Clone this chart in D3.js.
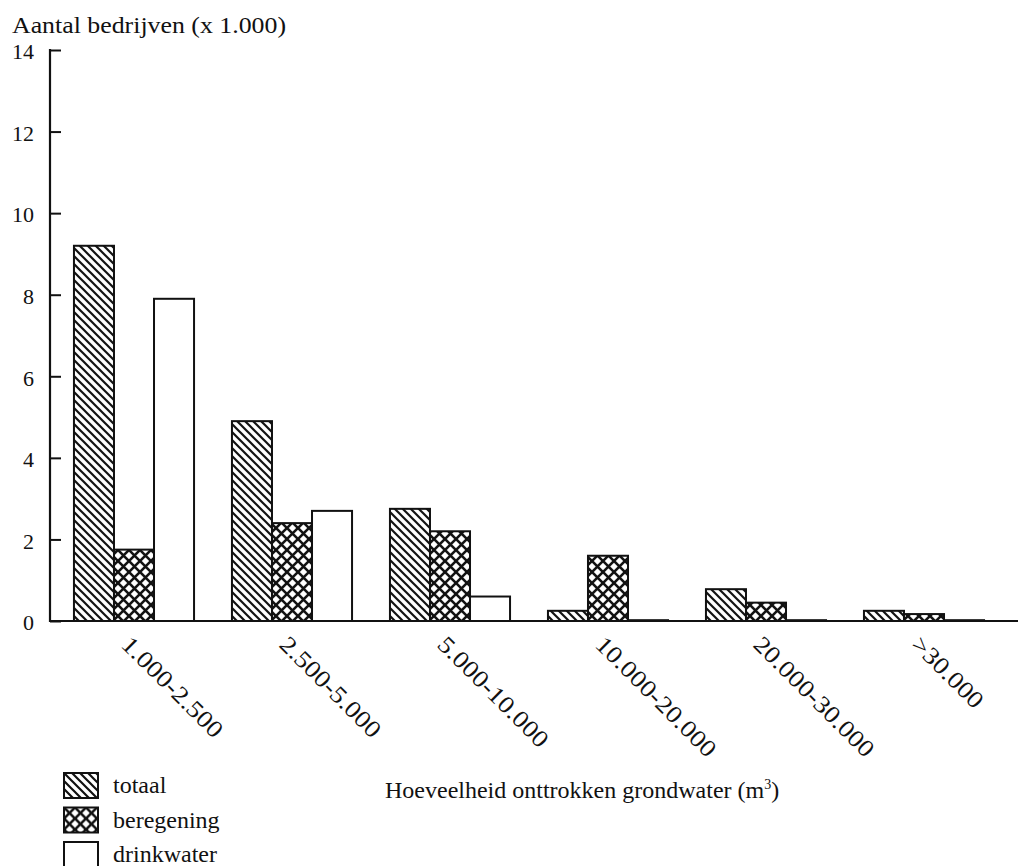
<!DOCTYPE html>
<html>
<head>
<meta charset="utf-8">
<script src="https://cdn.jsdelivr.net/npm/d3@7"></script>
<style>
  html, body { margin: 0; padding: 0; background: #fff; }
  svg { display: block; }
</style>
</head>
<body>
<svg id="chart" width="1018" height="866"></svg>
<script>
// Number of farms (x 1,000) by volume of extracted groundwater
const categories = ["1.000-2.500", "2.500-5.000", "5.000-10.000", "10.000-20.000", "20.000-30.000", ">30.000"];
const seriesNames = ["totaal", "beregening", "drinkwater"];
const totaal = [9.2, 4.9, 2.75, 0.25, 0.78, 0.25];
const beregening = [1.75, 2.4, 2.2, 1.6, 0.45, 0.17];
const drinkwater = [7.9, 2.7, 0.6, 0.02, 0.02, 0.02];
const yTicks = [0, 2, 4, 6, 8, 10, 12, 14];

const seriesValues = { totaal, beregening, drinkwater };
const FONT = "'Liberation Serif', 'DejaVu Serif', 'Times New Roman', serif";

const svg = d3.select("#chart")
  .attr("font-family", FONT)
  .style("font-family", FONT);

// Hatch patterns
const defs = svg.append("defs");
const diag = defs.append("pattern")
  .attr("id", "pat-totaal").attr("patternUnits", "userSpaceOnUse")
  .attr("width", 8).attr("height", 8);
diag.append("rect").attr("width", 8).attr("height", 8).attr("fill", "#fff");
diag.append("path")
  .attr("d", "M-2,-2L10,10M-2,6L2,10M6,-2L10,2")
  .attr("stroke", "#111").attr("stroke-width", 2.2);

const cross = defs.append("pattern")
  .attr("id", "pat-beregening").attr("patternUnits", "userSpaceOnUse")
  .attr("width", 11).attr("height", 11);
cross.append("rect").attr("width", 11).attr("height", 11).attr("fill", "#fff");
cross.append("path")
  .attr("d", "M-1,-1L12,12M-1,12L12,-1")
  .attr("stroke", "#111").attr("stroke-width", 2.6);

const fills = { totaal: "url(#pat-totaal)", beregening: "url(#pat-beregening)", drinkwater: "#fff" };

// Scales
const y = d3.scaleLinear().domain([0, 14]).range([621, 50]);
const x = d3.scaleBand().domain(categories).range([55, 1003]).paddingInner(0.24).paddingOuter(0.12);
const xs = d3.scaleBand().domain(seriesNames).range([0, x.bandwidth()]);

// Bars
const groups = svg.append("g").selectAll("g")
  .data(categories)
  .join("g")
  .attr("transform", d => `translate(${x(d)},0)`);

groups.selectAll("rect")
  .data((c, i) => seriesNames.map(s => ({ s, v: seriesValues[s][i] })))
  .join("rect")
  .attr("x", d => xs(d.s))
  .attr("y", d => y(d.v))
  .attr("width", xs.bandwidth())
  .attr("height", d => y(0) - y(d.v))
  .attr("fill", d => fills[d.s])
  .attr("stroke", "#111")
  .attr("stroke-width", 2);

// Y axis (ticks pointing inward)
const yAxis = svg.append("g")
  .attr("transform", "translate(50,0)")
  .call(d3.axisRight(y).tickValues(yTicks).tickSize(11).tickFormat(""));
yAxis.select(".domain").remove();
yAxis.selectAll(".tick line").attr("stroke", "#111").attr("stroke-width", 2);
svg.append("line").attr("x1", 50).attr("x2", 50).attr("y1", y(14) - 1).attr("y2", y(0) + 1)
  .attr("stroke", "#111").attr("stroke-width", 2.2);

svg.append("g").selectAll("text")
  .data(yTicks)
  .join("text")
  .attr("x", 34)
  .attr("y", d => y(d))
  .attr("dy", "0.42em")
  .attr("text-anchor", "end")
  .attr("font-size", 22)
  .attr("fill", "#111")
  .text(d => d);

// X axis baseline
svg.append("line").attr("x1", 49).attr("x2", 1018).attr("y1", y(0)).attr("y2", y(0))
  .attr("stroke", "#111").attr("stroke-width", 2.2);

// Rotated category labels
svg.append("g").selectAll("text")
  .data(categories)
  .join("text")
  .attr("transform", d => `translate(${x(d) + x.bandwidth() / 2 - 2},634) rotate(45)`)
  .attr("dy", "0.7em")
  .attr("font-size", 24)
  .attr("fill", "#111")
  .text(d => d)
  .each(function () {
    const len = this.getComputedTextLength();
    d3.select(this).attr("textLength", len * 1.14).attr("lengthAdjust", "spacingAndGlyphs");
  });

// Titles
svg.append("text").attr("x", 12).attr("y", 33).attr("font-size", 24).attr("fill", "#111")
  .text("Aantal bedrijven (x 1.000)")
  .attr("textLength", 274).attr("lengthAdjust", "spacingAndGlyphs");

const xt = svg.append("text").attr("x", 385).attr("y", 798).attr("font-size", 24).attr("fill", "#111");
xt.append("tspan").text("Hoeveelheid onttrokken grondwater (m");
xt.append("tspan").attr("font-size", 14).attr("dy", -9).text("3");
xt.append("tspan").attr("dy", 9).text(")");

// Legend
const legend = svg.append("g").selectAll("g")
  .data(seriesNames)
  .join("g")
  .attr("transform", (d, i) => `translate(64,${773 + i * 34.5})`);
legend.append("rect")
  .attr("width", 34).attr("height", 25)
  .attr("fill", d => fills[d])
  .attr("stroke", "#111").attr("stroke-width", 2);
legend.append("text")
  .attr("x", 49).attr("y", 20)
  .attr("font-size", 24)
  .attr("fill", "#111")
  .text(d => d);
</script>
</body>
</html>
